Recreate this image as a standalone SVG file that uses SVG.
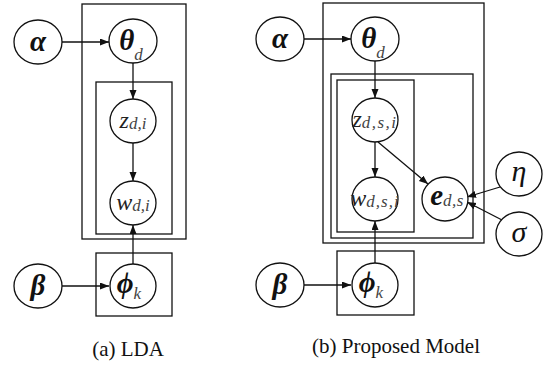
<svg xmlns="http://www.w3.org/2000/svg" width="545" height="367" viewBox="0 0 545 367">
<style>
.plate{fill:none;stroke:#111;stroke-width:1.3}
.node{fill:#fff;stroke:#111;stroke-width:1.3}
.edge{fill:none;stroke:#111;stroke-width:1.3}
.t{text-anchor:middle;fill:#111}
.g{font-weight:bold;font-style:italic;font-size:29px}
.v{font-style:italic;font-size:24px;fill:#222}
.s{font-style:italic;font-size:17px;fill:#444;font-weight:normal}
.cap{font-size:21px;text-anchor:middle;fill:#111}
</style>
<defs>
<marker id="arr" markerWidth="10" markerHeight="8" refX="9" refY="3.5" orient="auto" markerUnits="userSpaceOnUse">
<path d="M0,0 L9,3.5 L0,7 z" fill="#111"/>
</marker>
</defs>

<g id="plates">
<rect class="plate" x="82" y="4" width="104" height="235"/>
<rect class="plate" x="96" y="82" width="76" height="152"/>
<rect class="plate" x="96" y="253" width="76" height="63"/>
<rect class="plate" x="323" y="3" width="161" height="240"/>
<rect class="plate" x="331" y="74" width="142" height="164"/>
<rect class="plate" x="337" y="80" width="77" height="152"/>
<rect class="plate" x="337" y="251" width="77" height="64"/>
</g>

<g id="connectors">
<line class="edge" x1="62" y1="42" x2="109" y2="42" marker-end="url(#arr)"/>
<line class="edge" x1="133" y1="63" x2="133" y2="99" marker-end="url(#arr)"/>
<line class="edge" x1="133" y1="143" x2="133" y2="181" marker-end="url(#arr)"/>
<line class="edge" x1="133" y1="264" x2="133" y2="225" marker-end="url(#arr)"/>
<line class="edge" x1="62" y1="286" x2="109" y2="286" marker-end="url(#arr)"/>
<line class="edge" x1="304" y1="39" x2="351" y2="39" marker-end="url(#arr)"/>
<line class="edge" x1="375" y1="61" x2="375" y2="98" marker-end="url(#arr)"/>
<line class="edge" x1="375" y1="142" x2="375" y2="177" marker-end="url(#arr)"/>
<line class="edge" x1="375" y1="264" x2="375" y2="221" marker-end="url(#arr)"/>
<line class="edge" x1="304" y1="285" x2="351" y2="285" marker-end="url(#arr)"/>
<line class="edge" x1="378" y1="142" x2="428" y2="184" marker-end="url(#arr)"/>
<line class="edge" x1="500" y1="187" x2="467" y2="197" marker-end="url(#arr)"/>
<line class="edge" x1="502" y1="220" x2="467" y2="202" marker-end="url(#arr)"/>
</g>

<g font-family="Liberation Serif, Times New Roman, serif">
<g id="lda-alpha"><ellipse class="node" cx="38" cy="42" rx="24" ry="22"/><text class="t g" x="38" y="51">α</text></g>
<g id="lda-theta"><ellipse class="node" cx="133" cy="41" rx="24" ry="22"/><text class="t" x="131" y="50"><tspan class="g">θ</tspan><tspan class="s" font-size="20" dy="10">d</tspan></text></g>
<g id="lda-z"><ellipse class="node" cx="133" cy="121" rx="23" ry="22"/><text class="t" x="133" y="128"><tspan class="v">z</tspan><tspan class="s" dy="1">d,i</tspan></text></g>
<g id="lda-w"><ellipse class="node" cx="133" cy="203" rx="23" ry="22"/><text class="t" x="133" y="210"><tspan class="v">w</tspan><tspan class="s" dy="1">d,i</tspan></text></g>
<g id="lda-phi"><ellipse class="node" cx="133" cy="286" rx="23" ry="22"/><text class="t" x="129" y="293"><tspan class="g">ϕ</tspan><tspan class="s" font-size="18" dy="6">k</tspan></text></g>
<g id="lda-beta"><ellipse class="node" cx="38" cy="286" rx="24" ry="22"/><text class="t g" x="38" y="295">β</text></g>

<g id="pm-alpha"><ellipse class="node" cx="280" cy="39" rx="24" ry="22"/><text class="t g" x="280" y="48">α</text></g>
<g id="pm-theta"><ellipse class="node" cx="375" cy="39" rx="24" ry="22"/><text class="t" x="373" y="48"><tspan class="g">θ</tspan><tspan class="s" font-size="20" dy="10">d</tspan></text></g>
<g id="pm-z"><ellipse class="node" cx="375" cy="120" rx="23" ry="22"/><text class="t" x="375" y="127"><tspan class="v">z</tspan><tspan class="s" dy="1" letter-spacing="1.5">d,s,i</tspan></text></g>
<g id="pm-w"><ellipse class="node" cx="375" cy="199" rx="23" ry="22"/><text class="t" x="375" y="206"><tspan class="v">w</tspan><tspan class="s" dy="1" letter-spacing="1">d,s,i</tspan></text></g>
<g id="pm-e"><ellipse class="node" cx="445" cy="199" rx="23" ry="22"/><text class="t" x="447" y="205"><tspan class="g" font-size="27">e</tspan><tspan class="s" font-size="16" dy="1" letter-spacing="0.5">d,s</tspan></text></g>
<g id="pm-eta"><ellipse class="node" cx="519" cy="174" rx="23" ry="22"/><text class="t" x="519" y="181" font-style="italic" font-size="30">η</text></g>
<g id="pm-sigma"><ellipse class="node" cx="519" cy="234" rx="23" ry="22"/><text class="t" x="519" y="242" font-style="italic" font-size="30">σ</text></g>
<g id="pm-phi"><ellipse class="node" cx="375" cy="285" rx="23" ry="22"/><text class="t" x="371" y="292"><tspan class="g">ϕ</tspan><tspan class="s" font-size="18" dy="6">k</tspan></text></g>
<g id="pm-beta"><ellipse class="node" cx="280" cy="285" rx="24" ry="22"/><text class="t g" x="280" y="294">β</text></g>

<text class="cap" x="128" y="356">(a) LDA</text>
<text class="cap" x="396" y="353">(b) Proposed Model</text>
</g>
</svg>
